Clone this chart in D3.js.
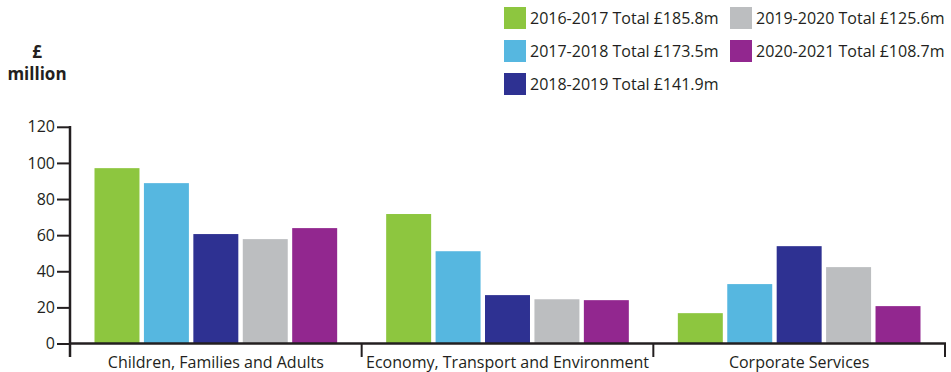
<!DOCTYPE html>
<html><head><meta charset="utf-8">
<script src="https://cdn.jsdelivr.net/npm/d3@7"></script>
<style>body{margin:0;background:#fff}svg{display:block}text{font-family:"Open Sans",sans-serif;fill:#231f20}</style>
</head><body><svg id="c" width="951" height="372"></svg>
<script>
const categories = ["Children, Families and Adults", "Economy, Transport and Environment", "Corporate Services"];
const seriesNames = ["2016-2017", "2017-2018", "2018-2019", "2019-2020", "2020-2021"];
const seriesTotals = ["£185.8m", "£173.5m", "£141.9m", "£125.6m", "£108.7m"];
const v2016 = [97.1, 71.7, 16.8];
const v2017 = [88.8, 51.1, 32.9];
const v2018 = [60.6, 26.8, 53.9];
const v2019 = [57.8, 24.5, 42.3];
const v2020 = [63.9, 24.0, 20.7];
const yTicks = [0, 20, 40, 60, 80, 100, 120];
const colors = ["#8dc63f", "#56b7e0", "#2e3192", "#bcbec0", "#92278f"];
const values = [v2016, v2017, v2018, v2019, v2020];

const svg = d3.select("#c");
const x0 = d3.scaleBand().domain(categories).range([70, 945]).padding(0);
const x1 = d3.scaleBand().domain(seriesNames).range([24.5, x0.bandwidth() - 24.5]).paddingInner(0.09).paddingOuter(0);
const y = d3.scaleLinear().domain([0, 120]).range([343.5, 126.8]);

// bars
categories.forEach((c, ci) => {
  const g = svg.append("g").attr("transform", `translate(${x0(c)},0)`);
  g.selectAll("rect").data(seriesNames).join("rect")
    .attr("x", s => x1(s)).attr("width", x1.bandwidth())
    .attr("y", (s, si) => y(values[si][ci]))
    .attr("height", (s, si) => y(0) - y(values[si][ci]))
    .attr("fill", (s, si) => colors[si]);
});

// y axis
const ya = svg.append("g").attr("transform", "translate(70,0)")
  .call(d3.axisLeft(y).tickValues(yTicks).tickSize(13).tickPadding(2));
ya.select(".domain").remove();
ya.selectAll("line").attr("stroke", "#231f20").attr("stroke-width", 2);
ya.selectAll("text").style("font-size", "16px").attr("fill", "#231f20");
svg.append("line").attr("x1", 70).attr("x2", 70).attr("y1", 126).attr("y2", 357)
  .attr("stroke", "#231f20").attr("stroke-width", 2.5);

// x axis
svg.append("line").attr("x1", 69).attr("x2", 946).attr("y1", y(0)).attr("y2", y(0))
  .attr("stroke", "#231f20").attr("stroke-width", 2.5);
const bounds = categories.map(c => x0(c)).concat([x0.range()[1]]);
svg.selectAll(".xt").data(bounds).join("line").attr("class", "xt")
  .attr("x1", d => d).attr("x2", d => d).attr("y1", y(0)).attr("y2", 357)
  .attr("stroke", "#231f20").attr("stroke-width", 2);
svg.selectAll(".xl").data(categories).join("text").attr("class", "xl")
  .attr("x", c => x0(c) + x0.bandwidth() / 2).attr("y", 368)
  .attr("text-anchor", "middle").style("font-size", "16px").text(c => c);

// y title
svg.append("text").attr("x", 37).attr("y", 58).attr("text-anchor", "middle")
  .style("font-size", "17px").style("font-weight", "bold").text("£");
svg.append("text").attr("x", 37).attr("y", 80).attr("text-anchor", "middle")
  .style("font-size", "17px").style("font-weight", "bold").text("million");

// legend
const legPos = [[504, 7], [504, 40], [504, 73], [730, 7], [730, 40]];
seriesNames.forEach((s, i) => {
  const [lx, ly] = legPos[i];
  svg.append("rect").attr("x", lx).attr("y", ly).attr("width", 22).attr("height", 22).attr("fill", colors[i]);
  svg.append("text").attr("x", lx + 26).attr("y", ly + 17).style("font-size", "16px")
    .text(`${s} Total ${seriesTotals[i]}`);
});
</script></body></html>
